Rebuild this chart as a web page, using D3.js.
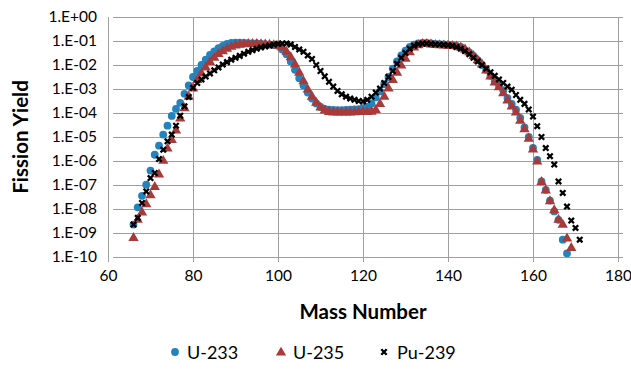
<!DOCTYPE html>
<html>
<head>
<meta charset="utf-8">
<script src="https://cdn.jsdelivr.net/npm/d3@7/dist/d3.min.js"></script>
<style>
  body { margin: 0; background: #fff; }
  text { font-family: Lato, "Open Sans", sans-serif; fill: #000; }
</style>
</head>
<body>
<div id="chart"></div>
<script>
// log10 of fission yield, one value per mass number
const u233Start = 66;
const u233Log = [
  -8.65, -7.93, -7.45, -6.99, -6.4, -5.74, -5.36, -4.9, -4.53, -4.12,
  -3.83, -3.58, -3.2, -2.85, -2.5, -2.25, -2.0, -1.78, -1.58, -1.43,
  -1.3, -1.2, -1.12, -1.08, -1.07, -1.07, -1.08, -1.09, -1.1, -1.1,
  -1.12, -1.13, -1.15, -1.17, -1.2, -1.35, -1.55, -1.85, -2.2, -2.55,
  -2.85, -3.15, -3.4, -3.6, -3.75, -3.83, -3.86, -3.87, -3.88, -3.88,
  -3.87, -3.86, -3.85, -3.84, -3.8, -3.75, -3.6, -3.35, -3.1, -2.8,
  -2.5, -2.15, -1.85, -1.6, -1.4, -1.25, -1.15, -1.1, -1.08, -1.08,
  -1.1, -1.12, -1.13, -1.14, -1.15, -1.17, -1.2, -1.25, -1.38, -1.48,
  -1.62, -1.8, -2.0, -2.2, -2.45, -2.68, -2.85, -3.05, -3.38, -3.62,
  -3.86, -4.2, -4.6, -5.0, -5.45, -5.95, -6.85, -7.2, -7.65, -8.1,
  -8.45, -9.28, -9.85
];

const u235Start = 66;
const u235Log = [
  -9.18, -8.42, -8.12, -7.78, -7.4, -7.06, -6.54, -5.97, -5.46, -5.1,
  -4.7, -4.2, -3.78, -3.3, -2.95, -2.6, -2.33, -2.08, -1.85, -1.67,
  -1.52, -1.4, -1.3, -1.22, -1.16, -1.13, -1.11, -1.1, -1.1, -1.1,
  -1.11, -1.12, -1.13, -1.15, -1.17, -1.25, -1.42, -1.65, -1.95, -2.3,
  -2.65, -3.0, -3.3, -3.55, -3.75, -3.87, -3.93, -3.95, -3.95, -3.96,
  -3.95, -3.95, -3.94, -3.93, -3.93, -3.93, -3.92, -3.85, -3.6, -3.3,
  -2.95, -2.6, -2.3, -2.0, -1.72, -1.45, -1.25, -1.15, -1.1, -1.1,
  -1.12, -1.14, -1.15, -1.16, -1.17, -1.18, -1.2, -1.25, -1.33, -1.45,
  -1.6, -1.78, -1.95, -2.2, -2.45, -2.7, -2.9, -3.15, -3.45, -3.7,
  -3.95, -4.3, -4.65, -5.05, -5.5, -6.0, -6.85, -7.2, -7.65, -8.03,
  -8.42, -8.63, -9.2, -9.6
];

const pu239Start = 66;
const pu239Log = [
  -8.65, -8.37, -7.75, -7.27, -6.71, -6.5, -5.92, -5.53, -5.18, -4.9,
  -4.53, -4.11, -3.72, -3.33, -2.95, -2.75, -2.6, -2.48, -2.35, -2.22,
  -2.1, -1.98, -1.88, -1.78, -1.7, -1.62, -1.53, -1.45, -1.38, -1.32,
  -1.27, -1.23, -1.19, -1.15, -1.12, -1.1, -1.1, -1.15, -1.25, -1.35,
  -1.45, -1.6, -1.75, -2.0, -2.25, -2.47, -2.7, -2.9, -3.08, -3.22,
  -3.32, -3.4, -3.45, -3.5, -3.52, -3.45, -3.32, -3.15, -2.98, -2.75,
  -2.5, -2.25, -1.95, -1.7, -1.5, -1.32, -1.2, -1.13, -1.1, -1.1,
  -1.12, -1.14, -1.15, -1.16, -1.18, -1.2, -1.25, -1.32, -1.42, -1.55,
  -1.7, -1.85, -2.0, -2.15, -2.3, -2.45, -2.6, -2.75, -2.9, -3.03,
  -3.25, -3.45, -3.62, -3.85, -4.15, -4.55, -5.0, -5.46, -5.8, -6.15,
  -6.85, -7.33, -7.9, -8.48, -8.79, -9.28
];

const xTicks = [60, 80, 100, 120, 140, 160, 180];
const yTicks = [1e0, 1e-1, 1e-2, 1e-3, 1e-4, 1e-5, 1e-6, 1e-7, 1e-8, 1e-9, 1e-10];
const seriesNames = ["U-233", "U-235", "Pu-239"];

const BLUE = "#2383bd";
const RED = "#a83a3a";
const BLACK = "#000000";
const GRID = "#a0a0a0";

const width = 631, height = 379;
const margin = { left: 108, right: 13, top: 17, bottom: 122 };

const toPoints = (start, logs) => logs.map((v, i) => ({ a: start + i, y: Math.pow(10, v) }));
const series = [
  { name: seriesNames[0], color: BLUE, shape: "circle", points: toPoints(u233Start, u233Log) },
  { name: seriesNames[1], color: RED, shape: "triangle", points: toPoints(u235Start, u235Log) },
  { name: seriesNames[2], color: BLACK, shape: "cross", points: toPoints(pu239Start, pu239Log) }
];

const svg = d3.select("#chart").append("svg")
  .attr("width", width)
  .attr("height", height);

const x = d3.scaleLinear().domain([60, 180]).range([margin.left, width - margin.right]);
const y = d3.scaleLog().domain([1e-10, 1]).range([height - margin.bottom, margin.top]);

const fmtExp = d => {
  const e = Math.round(Math.log10(d));
  return "1.E" + (e < 0 ? "-" : "+") + String(Math.abs(e)).padStart(2, "0");
};

////////////////////////////////////////////////////////////////////////////////////

// gridlines
svg.append("g")
  .attr("transform", `translate(${margin.left},0)`)
  .call(d3.axisLeft(y).tickValues(yTicks).tickSize(-(width - margin.left - margin.right) - 5).tickFormat(fmtExp).tickPadding(8))
  .call(g => g.select(".domain").remove())
  .call(g => g.selectAll(".tick line").attr("stroke", GRID).attr("x1", 5))
  .call(g => g.selectAll(".tick text").attr("font-size", "15.5px").attr("fill", "#222").attr("dx", "-3"));

svg.append("g")
  .attr("transform", `translate(0,${height - margin.bottom})`)
  .call(d3.axisBottom(x).tickValues(xTicks).tickSize(-(height - margin.top - margin.bottom)).tickPadding(13))
  .call(g => g.select(".domain").remove())
  .call(g => g.selectAll(".tick line").attr("stroke", GRID).attr("y1", 5))
  .call(g => g.selectAll(".tick text").attr("font-size", "15.5px").attr("fill", "#222"));

////////////////////////////////////////////////////////////////////////////////////

const triangle = d3.symbol().type(d3.symbolTriangle).size(46);

function drawMarker(sel, shape, color) {
  if (shape === "circle") {
    sel.append("circle").attr("r", 3.9).attr("fill", color);
  } else if (shape === "triangle") {
    sel.append("path").attr("d", triangle()).attr("fill", color).attr("transform", "translate(0,0.6)");
  } else {
    sel.append("path")
      .attr("d", "M-2.7,-2.7L2.7,2.7M-2.7,2.7L2.7,-2.7")
      .attr("stroke", color)
      .attr("stroke-width", 2.3)
      .attr("fill", "none");
  }
}

series.forEach(s => {
  const g = svg.append("g");
  const m = g.selectAll("g")
    .data(s.points)
    .enter()
    .append("g")
    .attr("transform", d => `translate(${x(d.a)},${y(d.y)})`);
  drawMarker(m, s.shape, s.color);
});

////////////////////////////////////////////////////////////////////////////////////

svg.append("text")
  .attr("x", (margin.left + width - margin.right) / 2)
  .attr("y", 319)
  .attr("text-anchor", "middle")
  .attr("font-size", "20.5px")
  .attr("font-weight", "bold")
  .text("Mass Number");

svg.append("text")
  .attr("transform", `translate(28,${(margin.top + height - margin.bottom) / 2}) rotate(-90)`)
  .attr("text-anchor", "middle")
  .attr("font-size", "20.5px")
  .attr("font-weight", "bold")
  .text("Fission Yield");

const legendX = [175, 281, 384];
const legend = svg.append("g").selectAll("g")
  .data(series)
  .enter()
  .append("g")
  .attr("transform", (d, i) => `translate(${legendX[i]},352)`);

legend.each(function (d) { drawMarker(d3.select(this), d.shape, d.color); });

legend.append("text")
  .attr("x", (d, i) => (i === 2 ? 13 : 12))
  .attr("y", 6.5)
  .attr("font-size", "18px")
  .attr("fill", "#222")
  .text(d => d.name);
</script>
</body>
</html>
